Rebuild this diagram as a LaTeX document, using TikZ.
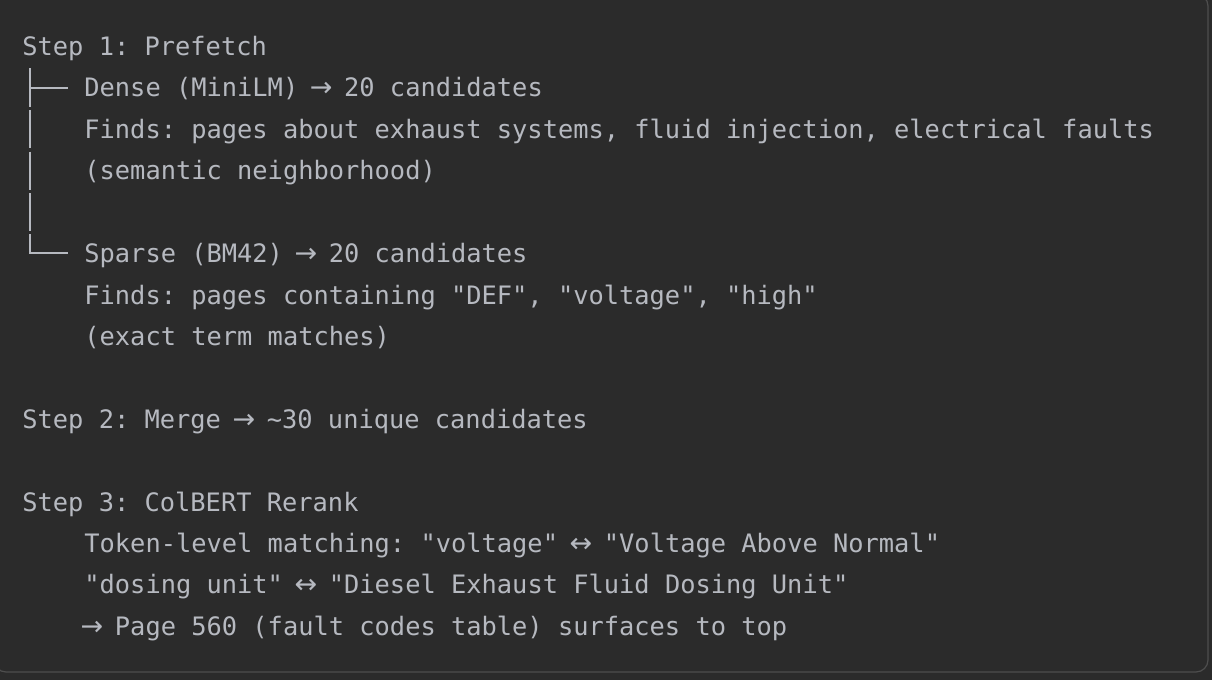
\documentclass[tikz,border=0pt]{standalone}
\usepackage{fontspec}
\setmonofont{DejaVu Sans Mono}
\newfontfamily\arrowfont{DejaVu Sans}
\newcommand\codesym[1]{\makebox[0.602em]{\arrowfont\fontsize{13.5}{15}\selectfont #1}}
\definecolor{codebg}{HTML}{2B2B2B}
\definecolor{codefg}{HTML}{B6B9C0}
\definecolor{codeframe}{HTML}{4E4E4E}
\tikzset{
  codeline/.style={anchor=base west,inner sep=0pt,text=codefg,
    font=\ttfamily\fontsize{12.69}{15}\selectfont},
  treeline/.style={draw=codefg,line width=1pt}
}
\begin{document}
\begin{tikzpicture}[x=0.5pt,y={(0pt,-0.5pt)}]
\useasboundingbox (0,0) rectangle (1212,680);
\fill[codebg] (0,0) rectangle (1212,680);
\begin{scope}
\clip (0,0) rectangle (1212,680);
\draw[codeframe,line width=0.6pt,rounded corners=6pt] (-6,-6) rectangle (1208,672);
\end{scope}

\node[codeline] (step1) at (22,55.6) {Step 1: Prefetch};
\node[codeline] (dense) at (84,97) {Dense (MiniLM) \codesym{→} 20 candidates};
\node[codeline] (densefind) at (84,138.4) {Finds: pages about exhaust systems, fluid injection, electrical faults};
\node[codeline] (densenote) at (84,179.8) {(semantic neighborhood)};
\node[codeline] (sparse) at (84,262.6) {Sparse (BM42) \codesym{→} 20 candidates};
\node[codeline] (sparsefind) at (84,304) {Finds: pages containing "DEF", "voltage", "high"};
\node[codeline] (sparsenote) at (84,345.4) {(exact term matches)};

\node[codeline] (step2) at (22,428.2) {Step 2: Merge \codesym{→} \textasciitilde30 unique candidates};

\node[codeline] (step3) at (22,511) {Step 3: ColBERT Rerank};
\node[codeline] (token) at (84,552.4) {Token-level matching: "voltage" \codesym{↔} "Voltage Above Normal"};
\node[codeline] (dosing) at (84,593.8) {"dosing unit" \codesym{↔} "Diesel Exhaust Fluid Dosing Unit"};
\node[codeline] (result) at (84,635.2) {\codesym{→} Page 560 (fault codes table) surfaces to top};

\coordinate (densetip) at (68,87.8);
\coordinate (sparsetip) at (68,253.4);
\draw[treeline] (30,68) -- (30,107);
\draw[treeline] (30,87.8) -- (densetip);
\foreach \yc in {129.2,170.6,212}
  \draw[treeline] (30,\yc-19) -- (30,\yc+19);
\draw[treeline] (30,234) -- (30,253.4) -- (sparsetip);
\end{tikzpicture}
\end{document}
